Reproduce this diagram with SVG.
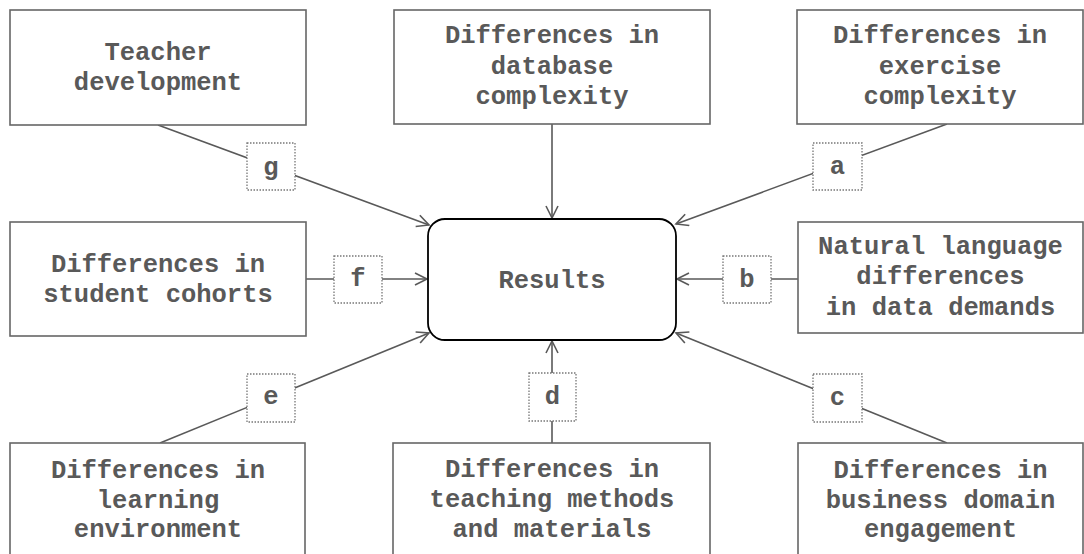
<svg xmlns="http://www.w3.org/2000/svg" width="1084" height="554" viewBox="0 0 1084 554">
<style>
.box{fill:#fff;stroke:#666;stroke-width:1.6}
.res{fill:#fff;stroke:#000;stroke-width:1.8}
.lbl{fill:#fff;stroke:#777;stroke-width:1.3;stroke-dasharray:1.5 1.5}
.t{font-family:"Liberation Mono","Courier New",monospace;font-weight:bold;font-size:25.5px;fill:#595959;text-anchor:middle}
.c{stroke:#595959;stroke-width:1.6;fill:none;marker-end:url(#arr)}
</style>
<defs>
<marker id="arr" markerUnits="userSpaceOnUse" markerWidth="16" markerHeight="16" refX="13" refY="7" orient="auto">
<path d="M1,1 L13,7 L1,13" fill="none" stroke="#595959" stroke-width="1.6"/>
</marker>
</defs>
<rect width="1084" height="554" fill="#fff"/>
<g id="connectors">
<line class="c" x1="158" y1="125" x2="429" y2="225"/>
<line class="c" x1="552" y1="124" x2="552" y2="218"/>
<line class="c" x1="947" y1="124" x2="676" y2="224"/>
<line class="c" x1="306" y1="279" x2="427" y2="279"/>
<line class="c" x1="798" y1="279" x2="677" y2="279"/>
<line class="c" x1="160" y1="443" x2="429" y2="333"/>
<line class="c" x1="552" y1="443" x2="552" y2="341"/>
<line class="c" x1="947" y1="443" x2="676" y2="333"/>
</g>
<g id="label-g"><rect class="lbl" x="247" y="143" width="48" height="47"/><text class="t" x="271" y="175">g</text></g>
<g id="label-a"><rect class="lbl" x="813" y="143" width="49" height="47"/><text class="t" x="837.5" y="174">a</text></g>
<g id="label-f"><rect class="lbl" x="334" y="256" width="48" height="47"/><text class="t" x="358" y="286">f</text></g>
<g id="label-b"><rect class="lbl" x="723" y="256" width="48" height="47"/><text class="t" x="747" y="287">b</text></g>
<g id="label-e"><rect class="lbl" x="247" y="374" width="48" height="48"/><text class="t" x="271" y="404">e</text></g>
<g id="label-d"><rect class="lbl" x="529" y="373" width="47" height="48"/><text class="t" x="552.5" y="404">d</text></g>
<g id="label-c"><rect class="lbl" x="813" y="374" width="49" height="48"/><text class="t" x="837.5" y="405">c</text></g>
<g id="results"><rect class="res" x="428" y="219" width="248" height="121" rx="17"/><text class="t" x="552" y="288">Results</text></g>
<g id="teacher"><rect class="box" x="10" y="10" width="296" height="115"/><text class="t" x="158" y="60">Teacher</text><text class="t" x="158" y="90">development</text></g>
<g id="database"><rect class="box" x="394" y="10" width="316" height="114"/><text class="t" x="552" y="43">Differences in</text><text class="t" x="552" y="74">database</text><text class="t" x="552" y="104">complexity</text></g>
<g id="exercise"><rect class="box" x="797" y="10" width="286" height="114"/><text class="t" x="940" y="43">Differences in</text><text class="t" x="940" y="74">exercise</text><text class="t" x="940" y="104">complexity</text></g>
<g id="cohorts"><rect class="box" x="10" y="222" width="296" height="114"/><text class="t" x="158" y="272">Differences in</text><text class="t" x="158" y="302">student cohorts</text></g>
<g id="language"><rect class="box" x="798" y="222" width="285" height="111"/><text class="t" x="940.5" y="254">Natural language</text><text class="t" x="940.5" y="284">differences</text><text class="t" x="940.5" y="315">in data demands</text></g>
<g id="learning"><rect class="box" x="10" y="443" width="295" height="130"/><text class="t" x="158" y="478">Differences in</text><text class="t" x="158" y="508">learning</text><text class="t" x="158" y="537">environment</text></g>
<g id="teaching"><rect class="box" x="393" y="443" width="317" height="130"/><text class="t" x="552" y="477">Differences in</text><text class="t" x="552" y="507">teaching methods</text><text class="t" x="552" y="537">and materials</text></g>
<g id="business"><rect class="box" x="798" y="443" width="285" height="130"/><text class="t" x="940.5" y="478">Differences in</text><text class="t" x="940.5" y="508">business domain</text><text class="t" x="940.5" y="537">engagement</text></g>
</svg>
